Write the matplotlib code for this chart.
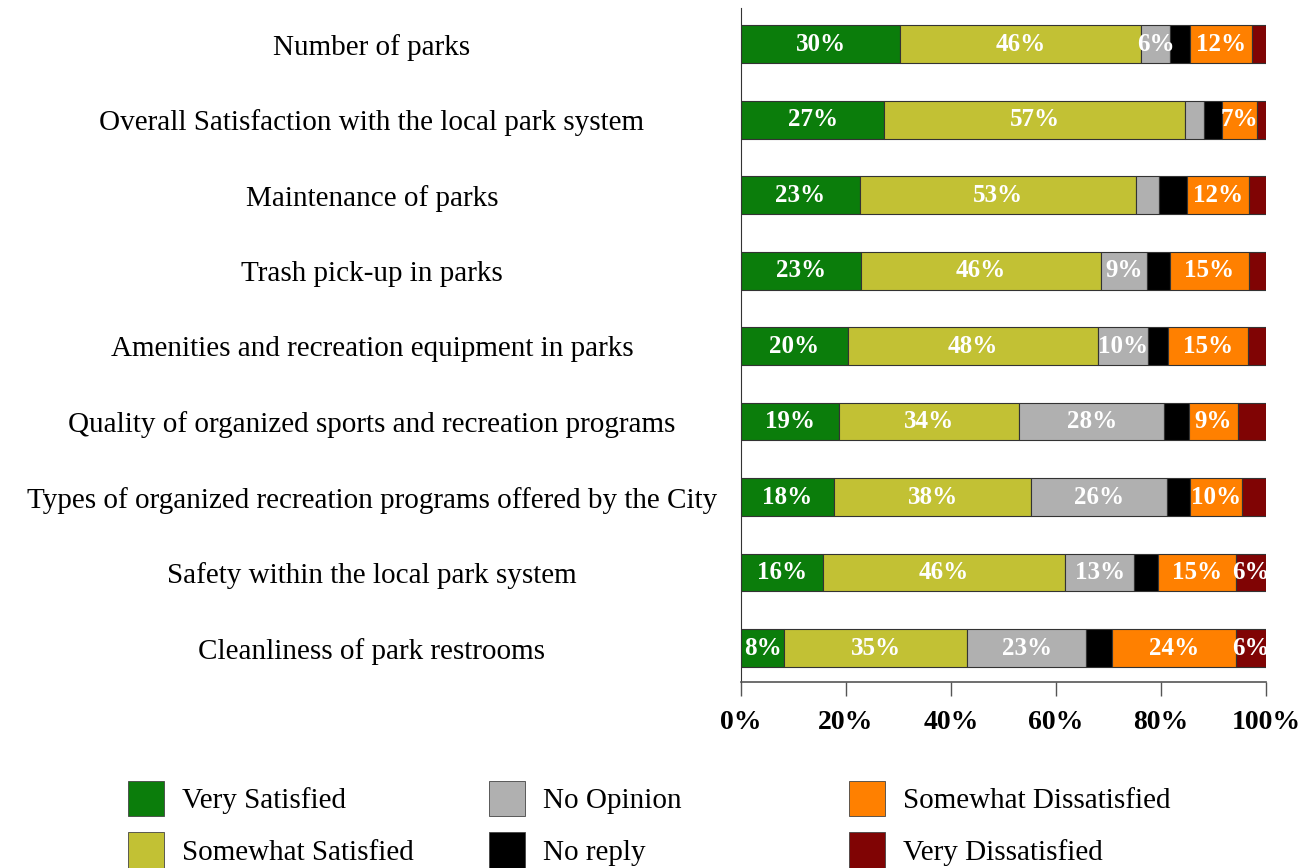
import numpy as np
import matplotlib
matplotlib.use("Agg")
import matplotlib.pyplot as plt
from matplotlib.patches import Patch

# Survey data (percent of respondents)
Items = ["Number of parks",
         "Overall Satisfaction with the local park system",
         "Maintenance of parks",
         "Trash pick-up in parks",
         "Amenities and recreation equipment in parks",
         "Quality of organized sports and recreation programs",
         "Types of organized recreation programs offered by the City",
         "Safety within the local park system",
         "Cleanliness of park restrooms"]

VerySat = [30.3, 27.3, 22.6, 22.8, 20.3, 18.6, 17.7, 15.6, 8.2]
SomeSat = [45.9, 57.3, 52.6, 45.8, 47.7, 34.4, 37.6, 46.2, 34.9]
NoOpinion = [5.6, 3.5, 4.5, 8.8, 9.6, 27.6, 25.8, 13.0, 22.6]
NoReply = [3.8, 3.5, 5.3, 4.3, 3.8, 4.7, 4.4, 4.7, 5.0]
SomeDis = [11.7, 6.6, 11.7, 15.0, 15.1, 9.4, 10.0, 14.8, 23.6]
VeryDis = [2.7, 1.8, 3.3, 3.3, 3.5, 5.3, 4.5, 5.7, 5.7]

Series = ["Very Satisfied", "Somewhat Satisfied", "No Opinion",
          "No reply", "Somewhat Dissatisfied", "Very Dissatisfied"]
Colors = ["#0b7d0b", "#c2c134", "#b0b0b0", "#000000", "#ff8000", "#800404"]

plt.rcParams['font.family'] = ['Liberation Serif', 'DejaVu Serif']

fig = plt.figure(figsize=(13.16, 8.68), dpi=100)
ax = fig.add_axes([741 / 1316, 1 - 682 / 868, 525 / 1316, 674 / 868])

y = np.arange(len(Items))
Left = np.zeros(len(Items))
for Name, Vals, Col in zip(Series, [VerySat, SomeSat, NoOpinion, NoReply, SomeDis, VeryDis], Colors):
    Vals = np.array(Vals)
    ax.barh(y, Vals, left=Left, height=0.5, color=Col, edgecolor="#333333",
            linewidth=0.8, label=Name)
    for i, v in enumerate(Vals):
        if v >= 5.5 and Name != "No reply":
            ax.text(Left[i] + v / 2, y[i], f"{round(v):.0f}%", ha="center", va="center",
                    color="white", fontsize=18, fontweight="bold")
    Left += Vals

ax.set_xlim(0, 100)
ax.set_ylim(8.45, -0.48)
ax.set_xticks([0, 20, 40, 60, 80, 100])
ax.set_xticklabels(["0%", "20%", "40%", "60%", "80%", "100%"], fontsize=20, fontweight="bold")
ax.tick_params(axis="x", length=10, width=1, color="#555555", pad=10)
ax.set_yticks(y)
ax.set_yticklabels(Items, fontsize=21)
ax.tick_params(axis="y", length=0, pad=265.7)
for lab in ax.get_yticklabels():
    lab.set_ha("center")

ax.spines["top"].set_visible(False)
ax.spines["right"].set_visible(False)
ax.spines["left"].set_color("#333333")
ax.spines["bottom"].set_color("#555555")
ax.spines["bottom"].set_linewidth(1.2)

# legend: three columns placed separately
ColX = [128, 489, 849]
for c in range(3):
    Handles = [Patch(facecolor=Colors[k], edgecolor="#444444", linewidth=0.6)
               for k in (2 * c, 2 * c + 1)]
    fig.legend(Handles, [Series[2 * c], Series[2 * c + 1]], loc="upper left",
               bbox_to_anchor=(ColX[c] / 1316, 1 - 781 / 868), frameon=False,
               fontsize=21, handlelength=1.24, handleheight=1.49, handletextpad=0.6,
               labelspacing=0.55, borderpad=0, borderaxespad=0)

fig.savefig("out.png", dpi=100)
